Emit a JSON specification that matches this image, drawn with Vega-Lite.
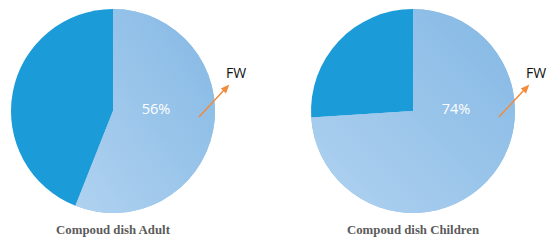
{
  "$schema": "https://vega.github.io/schema/vega-lite/v6.json",
  "padding": {"left": 3, "top": 1, "right": 0, "bottom": 0},
  "background": "#ffffff",
  "config": {"view": {"stroke": null}},
  "bounds": "flush",
  "data": {"values": [
    {"group": "Compoud dish Adult", "category": "FW", "value": 56, "label": "56%"},
    {"group": "Compoud dish Adult", "category": "Other", "value": 44, "label": "44%"},
    {"group": "Compoud dish Children", "category": "FW", "value": 74, "label": "74%"},
    {"group": "Compoud dish Children", "category": "Other", "value": 26, "label": "26%"}
  ]},
  "facet": {
    "column": {
      "field": "group", "type": "nominal",
      "header": {
        "title": null, "labelOrient": "bottom", "labelPadding": 3,
        "labelFont": "Liberation Serif", "labelFontWeight": "bold",
        "labelFontSize": 12.8, "labelColor": "#5b5b5b"
      }
    }
  },
  "spacing": 80,
  "spec": {
    "width": 220,
    "height": 220,
    "layer": [
      {
        "mark": {"type": "arc", "outerRadius": 102},
        "encoding": {
          "theta": {"field": "value", "type": "quantitative", "stack": true},
          "order": {"field": "category", "type": "nominal"},
          "color": {"field": "category", "type": "nominal", "legend": null,
            "scale": {"domain": ["FW", "Other"], "range": ["#94c1e9", "#1b9bd7"]}}
        }
      },
      {
        "mark": {"type": "arc", "outerRadius": 102,
          "fill": {"gradient": "linear", "x1": 1, "y1": 0, "x2": 0, "y2": 1,
            "stops": [{"offset": 0, "color": "#84b8e4"}, {"offset": 1, "color": "#b0d2f0"}]}},
        "encoding": {
          "theta": {"field": "value", "type": "quantitative", "stack": true},
          "order": {"field": "category", "type": "nominal"},
          "fillOpacity": {"condition": {"test": "datum.category === 'FW'", "value": 1}, "value": 0}
        }
      },
      {
        "transform": [{"filter": "datum.category === 'FW'"}],
        "mark": {"type": "text", "dx": 43, "dy": -1, "color": "#ffffff",
          "font": "Open Sans", "fontSize": 14.5, "align": "center", "baseline": "middle"},
        "encoding": {"text": {"field": "label", "type": "nominal"}}
      },
      {
        "transform": [{"filter": "datum.category === 'FW'"}],
        "mark": {"type": "text", "dx": 123, "dy": -37, "color": "#111111",
          "font": "Open Sans", "fontSize": 14, "align": "center", "baseline": "middle"},
        "encoding": {"text": {"field": "category", "type": "nominal"}}
      },
      {
        "transform": [{"filter": "datum.category === 'FW'"}],
        "mark": {"type": "point", "size": 40000, "filled": true,
          "fill": "#f28b3b", "stroke": "#f28b3b", "strokeWidth": 1.5, "opacity": 1,
          "shape": "M0.86,0.06L1.12,-0.22M1.15,-0.25L1.127,-0.189L1.091,-0.223Z"},
        "encoding": {}
      }
    ]
  }
}
